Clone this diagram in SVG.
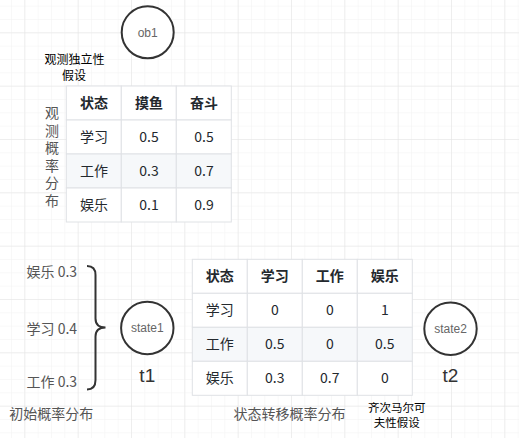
<svg xmlns="http://www.w3.org/2000/svg" width="519" height="438" viewBox="0 0 519 438">
<style>
.cjk{font-family:"Noto Sans CJK SC","Liberation Sans",sans-serif}
.lat{font-family:"Liberation Sans","Noto Sans CJK SC",sans-serif}
.cell{fill:#ffffff;stroke:#dfe2e5;stroke-width:1}
.alt{fill:#f6f8fa;stroke:#dfe2e5;stroke-width:1}
.tt{font-size:14px;fill:#24292e;text-anchor:middle;font-family:"Noto Sans CJK SC","Liberation Sans",sans-serif}
.th{font-weight:bold}
.circ{fill:#ffffff;stroke:#333333;stroke-width:2}
.ctext{font-size:12px;fill:#666666;text-anchor:middle;font-family:"Liberation Sans",sans-serif}
.gray{font-size:14px;fill:#555555;font-family:"Noto Sans CJK SC","Liberation Sans",sans-serif}
.note{font-size:12px;fill:#000000;text-anchor:middle;font-family:"Noto Sans CJK SC","Liberation Sans",sans-serif}
.tlabel{font-size:19px;fill:#333333;text-anchor:middle;font-family:"Liberation Sans",sans-serif}
.vert{writing-mode:vertical-rl;letter-spacing:3.5px}
</style>
<defs>
<pattern id="minor" x="11" y="5.667" width="13.333" height="13.333" patternUnits="userSpaceOnUse">
<path d="M0,0 H13.333 M0,0 V13.333" stroke="#f2f2f2" stroke-width="1" fill="none"/>
</pattern>
<pattern id="major" x="24.333" y="32.333" width="53.333" height="53.333" patternUnits="userSpaceOnUse">
<path d="M0,0 H53.333 M0,0 V53.333" stroke="#e4e4e4" stroke-width="1" fill="none"/>
</pattern>
</defs>
<rect width="519" height="438" fill="#ffffff"/>
<rect width="519" height="438" fill="url(#minor)"/>
<rect width="519" height="438" fill="url(#major)"/>

<g id="ob1">
<circle class="circ" cx="147.7" cy="32.3" r="26"/>
<text class="ctext" x="147.7" y="36.5">ob1</text>
</g>

<g id="note-obs">
<text class="note" x="74.5" y="64">观测独立性</text>
<text class="note" x="74" y="80">假设</text>
</g>

<g id="label-obs">
<text class="gray vert" x="52" y="106">观测概率分布</text>
</g>

<g id="table-obs">
<rect class="cell" x="66.3" y="86" width="55" height="34"/>
<rect class="cell" x="121.3" y="86" width="55" height="34"/>
<rect class="cell" x="176.3" y="86" width="55" height="34"/>
<rect class="cell" x="66.3" y="120" width="55" height="34"/>
<rect class="cell" x="121.3" y="120" width="55" height="34"/>
<rect class="cell" x="176.3" y="120" width="55" height="34"/>
<rect class="alt" x="66.3" y="154" width="55" height="34"/>
<rect class="alt" x="121.3" y="154" width="55" height="34"/>
<rect class="alt" x="176.3" y="154" width="55" height="34"/>
<rect class="cell" x="66.3" y="188" width="55" height="34"/>
<rect class="cell" x="121.3" y="188" width="55" height="34"/>
<rect class="cell" x="176.3" y="188" width="55" height="34"/>
<text class="tt th" x="94" y="108">状态</text>
<text class="tt th" x="149" y="108">摸鱼</text>
<text class="tt th" x="204" y="108">奋斗</text>
<text class="tt" x="94" y="142">学习</text>
<text class="tt" x="149" y="142">0.5</text>
<text class="tt" x="204" y="142">0.5</text>
<text class="tt" x="94" y="176">工作</text>
<text class="tt" x="149" y="176">0.3</text>
<text class="tt" x="204" y="176">0.7</text>
<text class="tt" x="94" y="210">娱乐</text>
<text class="tt" x="149" y="210">0.1</text>
<text class="tt" x="204" y="210">0.9</text>
</g>

<g id="init-probs">
<text class="gray" x="26.5" y="277">娱乐 0.3</text>
<text class="gray" x="26.5" y="334">学习 0.4</text>
<text class="gray" x="26.5" y="386.5">工作 0.3</text>
</g>

<g id="connectors">
<path d="M87,266 Q95.5,266 95.5,275 L95.5,318.5 Q95.5,327.5 105.5,327.5 Q95.5,327.5 95.5,336.5 L95.5,380 Q95.5,389.5 87,389.5" fill="none" stroke="#333333" stroke-width="2"/>
</g>

<g id="state1">
<circle class="circ" cx="147.3" cy="328" r="26.2"/>
<text class="ctext" x="147.3" y="332.2">state1</text>
<text class="tlabel" x="147.3" y="382">t1</text>
</g>

<g id="label-init">
<text class="gray" x="9.3" y="419">初始概率分布</text>
</g>

<g id="table-trans">
<rect class="cell" x="192.3" y="259.3" width="55" height="34"/>
<rect class="cell" x="247.3" y="259.3" width="55" height="34"/>
<rect class="cell" x="302.3" y="259.3" width="55" height="34"/>
<rect class="cell" x="357.3" y="259.3" width="55" height="34"/>
<rect class="cell" x="192.3" y="293.3" width="55" height="34"/>
<rect class="cell" x="247.3" y="293.3" width="55" height="34"/>
<rect class="cell" x="302.3" y="293.3" width="55" height="34"/>
<rect class="cell" x="357.3" y="293.3" width="55" height="34"/>
<rect class="alt" x="192.3" y="327.3" width="55" height="34"/>
<rect class="alt" x="247.3" y="327.3" width="55" height="34"/>
<rect class="alt" x="302.3" y="327.3" width="55" height="34"/>
<rect class="alt" x="357.3" y="327.3" width="55" height="34"/>
<rect class="cell" x="192.3" y="361.3" width="55" height="34"/>
<rect class="cell" x="247.3" y="361.3" width="55" height="34"/>
<rect class="cell" x="302.3" y="361.3" width="55" height="34"/>
<rect class="cell" x="357.3" y="361.3" width="55" height="34"/>
<text class="tt th" x="219.8" y="281.3">状态</text>
<text class="tt th" x="274.8" y="281.3">学习</text>
<text class="tt th" x="329.8" y="281.3">工作</text>
<text class="tt th" x="384.8" y="281.3">娱乐</text>
<text class="tt" x="219.8" y="315.3">学习</text>
<text class="tt" x="274.8" y="315.3">0</text>
<text class="tt" x="329.8" y="315.3">0</text>
<text class="tt" x="384.8" y="315.3">1</text>
<text class="tt" x="219.8" y="349.3">工作</text>
<text class="tt" x="274.8" y="349.3">0.5</text>
<text class="tt" x="329.8" y="349.3">0</text>
<text class="tt" x="384.8" y="349.3">0.5</text>
<text class="tt" x="219.8" y="383.3">娱乐</text>
<text class="tt" x="274.8" y="383.3">0.3</text>
<text class="tt" x="329.8" y="383.3">0.7</text>
<text class="tt" x="384.8" y="383.3">0</text>
</g>

<g id="label-trans">
<text class="gray" x="289.5" y="419" text-anchor="middle">状态转移概率分布</text>
</g>

<g id="note-markov">
<text class="note" x="396.7" y="412" style="font-size:11.5px">齐次马尔可</text>
<text class="note" x="396.7" y="427" style="font-size:11.5px">夫性假设</text>
</g>

<g id="state2">
<circle class="circ" cx="450.5" cy="328.8" r="26.2"/>
<text class="ctext" x="450.5" y="333">state2</text>
<text class="tlabel" x="450.5" y="382">t2</text>
</g>
</svg>
